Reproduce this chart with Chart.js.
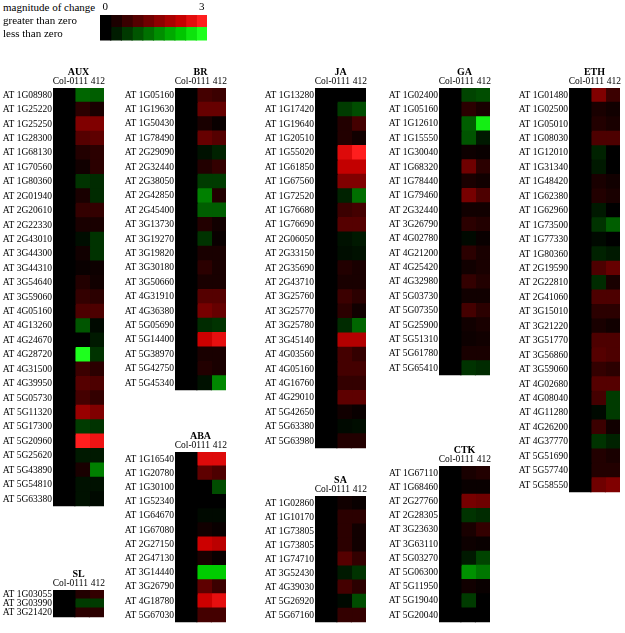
<!DOCTYPE html>
<html>
<head>
<meta charset="utf-8">
<script src="https://cdn.jsdelivr.net/npm/chart.js@4.4.1/dist/chart.umd.min.js"></script>
<style>
  body { margin: 0; background: #fff; width: 625px; height: 633px; overflow: hidden; position: relative; font-family: 'Liberation Serif', serif; }
  canvas { position: absolute; }
  #tituloEscala { position: absolute; left: 3px; top: 1px; font-size: 11px; color: #000; }
</style>
</head>
<body>
<div id="tituloEscala">magnitude of change</div>
<script>
// columnas y escala de color
const columnas = ['Col-0', '111', '412'];
const nivelesLeyenda = [0, 0.33, 0.67, 1, 1.33, 1.67, 2, 2.33, 2.67, 3];
const filasLeyenda = ['greater than zero', 'less than zero'];
const extremosLeyenda = ['0', '3'];

// AUX
const auxGenes = ['AT 1G08980', 'AT 1G25220', 'AT 1G25250', 'AT 1G28300', 'AT 1G68130', 'AT 1G70560', 'AT 1G80360', 'AT 2G01940', 'AT 2G20610', 'AT 2G22330', 'AT 2G43010', 'AT 3G44300', 'AT 3G44310', 'AT 3G54640', 'AT 3G59060', 'AT 4G05160', 'AT 4G13260', 'AT 4G24670', 'AT 4G28720', 'AT 4G31500', 'AT 4G39950', 'AT 5G05730', 'AT 5G11320', 'AT 5G17300', 'AT 5G20960', 'AT 5G25620', 'AT 5G43890', 'AT 5G54810', 'AT 5G63380'];
const auxCol0 = [0, 0, 0, 0, 0, 0, 0, 0, 0, 0, 0, 0, 0, 0, 0, 0, 0, 0, 0, 0, 0, 0, 0, 0, 0, 0, 0, 0, 0];
const aux111 = [-1.2, 0.5, 1.5, 1.0, 0.4, 0.2, -0.6, 0.3, 0.6, 0.3, -0.15, 0.2, 0.1, 0.4, 0.6, 0.9, -1.0, 0.0, -3.0, 0.7, 1.0, 0.8, 1.8, -0.7, 3.0, -0.3, 0.3, -0.2, -0.2];
const aux412 = [-1.1, 0.3, 1.5, 1.1, 0.5, 0.5, -0.5, -0.5, 0.6, 0.3, -0.6, -0.6, 0.15, 0.2, 0.5, 0.9, -0.1, -0.3, -0.6, 0.5, 0.9, 0.6, 1.5, -0.6, 2.8, -0.3, -1.5, -0.2, -0.1];

// SL
const slGenes = ['AT 1G03055', 'AT 3G03990', 'AT 3G21420'];
const slCol0 = [0, 0, 0];
const sl111 = [0.4, -0.7, 0.5];
const sl412 = [0.6, -0.7, 0.5];

// BR
const brGenes = ['AT 1G05160', 'AT 1G19630', 'AT 1G50430', 'AT 1G78490', 'AT 2G29090', 'AT 2G32440', 'AT 2G38050', 'AT 2G42850', 'AT 2G45400', 'AT 3G13730', 'AT 3G19270', 'AT 3G19820', 'AT 3G30180', 'AT 3G50660', 'AT 4G31910', 'AT 4G36380', 'AT 5G05690', 'AT 5G14400', 'AT 5G38970', 'AT 5G42750', 'AT 5G45340'];
const brCol0 = [0, 0, 0, 0, 0, 0, 0, 0, 0, 0, 0, 0, 0, 0, 0, 0, 0, 0, 0, 0, 0];
const br111 = [0.8, 1.2, 0.3, 1.2, -0.2, 0.4, -0.7, -1.5, -1.1, 0.4, -0.6, 0.3, 0.5, 0.3, 1.0, 1.4, -0.5, 2.4, 0.3, 0.4, -0.2];
const br412 = [0.7, 1.2, 0.1, 1.0, -0.4, 0.6, -0.7, 0.4, -1.1, 0.2, 0.1, 0.3, 0.3, 0.3, 1.0, 1.2, -0.6, 2.7, 0.3, 0.3, -1.6];

// ABA
const abaGenes = ['AT 1G16540', 'AT 1G20780', 'AT 1G30100', 'AT 1G52340', 'AT 1G64670', 'AT 1G67080', 'AT 2G27150', 'AT 2G47130', 'AT 3G14440', 'AT 3G26790', 'AT 4G18780', 'AT 5G67030'];
const abaCol0 = [0, 0, 0, 0, 0, 0, 0, 0, 0, 0, 0, 0];
const aba111 = [2.6, 1.1, 0.0, 0.0, -0.1, 0.2, 2.4, 0.3, -2.4, 1.1, 2.4, 0.8];
const aba412 = [2.6, 0.9, -0.9, 0.0, -0.1, 0.1, 2.2, 0.1, -2.4, 0.7, 2.7, 0.8];

// JA
const jaGenes = ['AT 1G13280', 'AT 1G17420', 'AT 1G19640', 'AT 1G20510', 'AT 1G55020', 'AT 1G61850', 'AT 1G67560', 'AT 1G72520', 'AT 1G76680', 'AT 1G76690', 'AT 2G06050', 'AT 2G33150', 'AT 2G35690', 'AT 2G43710', 'AT 3G25760', 'AT 3G25770', 'AT 3G25780', 'AT 3G45140', 'AT 4G03560', 'AT 4G05160', 'AT 4G16760', 'AT 4G29010', 'AT 5G42650', 'AT 5G63380', 'AT 5G63980'];
const jaCol0 = [0, 0, 0, 0, 0, 0, 0, 0, 0, 0, 0, 0, 0, 0, 0, 0, 0, 0, 0, 0, 0, 0, 0, 0, 0];
const ja111 = [0.0, -0.7, 0.4, 0.4, 2.6, 2.3, 1.5, -0.4, 0.7, 1.0, -0.2, -0.15, 0.4, 0.3, 0.7, 0.5, -0.5, 2.1, 0.8, 0.8, 0.6, 1.1, 0.2, -0.1, 0.4];
const ja412 = [0.0, -0.9, 0.8, 0.2, 3.0, 2.3, 1.5, -1.3, 0.8, 1.0, -0.3, -0.2, 0.3, 0.3, 0.5, 0.2, -1.2, 2.1, 0.6, 0.8, 0.6, 1.1, 0.1, -0.15, 0.4];

// SA
const saGenes = ['AT 1G02860', 'AT 1G10170', 'AT 1G73805', 'AT 1G73805', 'AT 1G74710', 'AT 3G52430', 'AT 4G39030', 'AT 5G26920', 'AT 5G67160'];
const saCol0 = [0, 0, 0, 0, 0, 0, 0, 0, 0];
const sa111 = [0.2, 0.5, 0.5, 0.5, 1.0, -0.3, 0.8, -0.1, 0.6];
const sa412 = [0.1, 0.5, 0.2, 0.2, 0.6, -0.6, 0.5, -0.9, 0.6];

// GA
const gaGenes = ['AT 1G02400', 'AT 1G05160', 'AT 1G12610', 'AT 1G15550', 'AT 1G30040', 'AT 1G68320', 'AT 1G78440', 'AT 1G79460', 'AT 2G32440', 'AT 3G26790', 'AT 4G02780', 'AT 4G21200', 'AT 4G25420', 'AT 4G32980', 'AT 5G03730', 'AT 5G07350', 'AT 5G25900', 'AT 5G51310', 'AT 5G61780', 'AT 5G65410'];
const gaCol0 = [0, 0, 0, 0, 0, 0, 0, 0, 0, 0, 0, 0, 0, 0, 0, 0, 0, 0, 0, 0];
const ga111 = [-0.8, 0.5, -1.1, -1.0, 0.15, 1.3, 0.3, 1.4, 0.2, 0.5, -0.1, 0.5, 0.2, 0.6, 0.2, 0.8, 0.2, 0.15, 0.3, -0.6];
const ga412 = [-0.9, 0.3, -2.8, -0.3, 0.1, 0.5, 0.2, 0.9, 0.2, 0.4, 0.1, 0.3, 0.3, 0.4, 0.2, 0.5, 0.3, 0.2, 0.3, -0.5];

// CTK
const ctkGenes = ['AT 1G67110', 'AT 1G68460', 'AT 2G27760', 'AT 2G28305', 'AT 3G23630', 'AT 3G63110', 'AT 5G03270', 'AT 5G06300', 'AT 5G11950', 'AT 5G19040', 'AT 5G20040'];
const ctkCol0 = [0, 0, 0, 0, 0, 0, 0, 0, 0, 0, 0];
const ctk111 = [0.3, 0.1, 1.4, -0.6, 0.3, 0.15, -0.3, -1.7, 0.2, -0.7, 0.0];
const ctk412 = [0.4, 0.1, 1.3, -0.5, 0.6, 0.1, -0.8, -1.4, 0.1, 0.0, 0.0];

// ETH
const ethGenes = ['AT 1G01480', 'AT 1G02500', 'AT 1G05010', 'AT 1G08030', 'AT 1G12010', 'AT 1G31340', 'AT 1G48420', 'AT 1G62380', 'AT 1G62960', 'AT 1G73500', 'AT 1G77330', 'AT 1G80360', 'AT 2G19590', 'AT 2G22810', 'AT 2G41060', 'AT 3G15010', 'AT 3G21220', 'AT 3G51770', 'AT 3G56860', 'AT 3G59060', 'AT 4G02680', 'AT 4G08040', 'AT 4G11280', 'AT 4G26200', 'AT 4G37770', 'AT 5G51690', 'AT 5G57740', 'AT 5G58550'];
const ethCol0 = [0, 0, 0, 0, 0, 0, 0, 0, 0, 0, 0, 0, 0, 0, 0, 0, 0, 0, 0, 0, 0, 0, 0, 0, 0, 0, 0, 0];
const eth111 = [1.5, 0.3, 0.4, 0.9, -0.4, -0.3, 0.3, 0.4, -0.3, -0.6, -0.1, -0.4, 0.9, -0.5, 0.9, 0.5, 0.3, 0.9, 1.0, 0.6, 1.0, 0.8, -0.1, 0.7, -0.6, 0.4, 0.4, 1.3];
const eth412 = [0.7, 0.2, 0.3, 0.9, 0.0, 0.0, 0.2, 0.3, 0.0, -1.1, 0.0, -0.3, 1.2, 0.3, 0.9, 0.5, 0.2, 0.9, 0.9, 0.5, 1.0, -0.7, -0.7, 0.2, -0.4, 0.3, 0.4, 1.5];

const FUENTE = 'Liberation Serif';

function colorDe(v) {
    const t = Math.min(1, Math.abs(v) / 3);
    const principal = Math.round(255 * t);
    const extra = t > 0.8 ? Math.round((t - 0.8) * 150) : 0;
    if (v >= 0) return `rgb(${principal},${extra},${extra})`;
    return `rgb(${extra},${principal},${extra})`;
}

function nuevoCanvas(left, top, w, h) {
    const c = document.createElement('canvas');
    c.width = w;
    c.height = h;
    c.style.left = left + 'px';
    c.style.top = top + 'px';
    document.body.appendChild(c);
    return c;
}

// alto de fila comun; SL es mas apretado
const FILA = 14.6;
const FILA_SL = 10.7;
const ARRIBA = 88, ABAJO = 627;

// posicion de cada mapa (borde izquierdo, borde superior de las celdas, alto de fila)
const paneles = [
    { nombre: 'AUX', genes: auxGenes, cols: [auxCol0, aux111, aux412], left: 53, top: ARRIBA, fila: FILA },
    { nombre: 'SL', genes: slGenes, cols: [slCol0, sl111, sl412], left: 53, top: 590, fila: FILA_SL },
    { nombre: 'BR', genes: brGenes, cols: [brCol0, br111, br412], left: 175, top: ARRIBA, fila: FILA },
    { nombre: 'ABA', genes: abaGenes, cols: [abaCol0, aba111, aba412], left: 175, top: ABAJO - 12 * FILA, fila: FILA },
    { nombre: 'JA', genes: jaGenes, cols: [jaCol0, ja111, ja412], left: 315, top: ARRIBA, fila: FILA },
    { nombre: 'SA', genes: saGenes, cols: [saCol0, sa111, sa412], left: 315, top: ABAJO - 9 * FILA, fila: FILA },
    { nombre: 'GA', genes: gaGenes, cols: [gaCol0, ga111, ga412], left: 439, top: ARRIBA, fila: FILA },
    { nombre: 'CTK', genes: ctkGenes, cols: [ctkCol0, ctk111, ctk412], left: 439, top: ABAJO - 11 * FILA, fila: FILA },
    { nombre: 'ETH', genes: ethGenes, cols: [ethCol0, eth111, eth412], left: 569, top: ARRIBA, fila: FILA }
];

const EJE_Y = 58, CABECERA = 24, ANCHO_MAPA = 51, PAD_D = 10, PAD_B = 2;
const bordesColumna = [[0, 1.5], [1.5, 2.5], [2.5, 3.5]];
const posCabecera = [0.72, 1.93, 3.08];

function crearPanel(p) {
    const alto = Math.round(p.genes.length * p.fila);
    const top = Math.round(p.top);
    const canvas = nuevoCanvas(p.left - EJE_Y, top - CABECERA,
        EJE_Y + ANCHO_MAPA + PAD_D, CABECERA + alto + PAD_B);

    new Chart(canvas, {
        type: 'bar',
        data: {
            labels: p.genes,
            datasets: p.cols.map((vals, i) => ({
                label: columnas[i],
                data: vals.map(() => bordesColumna[i]),
                backgroundColor: vals.map(colorDe),
                grouped: false,
                barPercentage: 1,
                categoryPercentage: 1,
                borderWidth: 0,
                inflateAmount: 0.6
            }))
        },
        options: {
            indexAxis: 'y',
            responsive: false,
            animation: false,
            layout: { padding: { right: PAD_D, bottom: PAD_B } },
            plugins: { legend: { display: false }, tooltip: { enabled: false } },
            scales: {
                x: {
                    position: 'top',
                    min: 0,
                    max: 3.5,
                    grid: { display: false, drawTicks: false },
                    border: { display: false },
                    afterBuildTicks: (s) => { s.ticks = posCabecera.map(v => ({ value: v })); },
                    afterFit: (s) => { s.height = CABECERA; },
                    ticks: {
                        autoSkip: false,
                        maxRotation: 0,
                        padding: 1,
                        color: '#000',
                        font: { family: FUENTE, size: 9.5 },
                        callback: (v, i) => columnas[i]
                    },
                    title: {
                        display: true,
                        text: p.nombre,
                        color: '#000',
                        padding: { top: 2, bottom: 0 },
                        font: { family: FUENTE, size: 10, weight: 'bold' }
                    }
                },
                y: {
                    grid: { display: false, drawTicks: false },
                    border: { display: false },
                    afterFit: (s) => { s.width = EJE_Y; },
                    ticks: { autoSkip: false, padding: 1, color: '#000', font: { family: FUENTE, size: 9.5 } }
                }
            }
        }
    });
}

function crearLeyenda() {
    const canvas = nuevoCanvas(3, 0, 97 + 107 + 5, 15 + 30 + 2);
    new Chart(canvas, {
        type: 'bar',
        data: {
            labels: filasLeyenda,
            datasets: nivelesLeyenda.map(n => ({
                data: [1, 1],
                backgroundColor: [colorDe(n), colorDe(-n)],
                barPercentage: 1,
                categoryPercentage: 1,
                borderWidth: 0,
                inflateAmount: 0.6
            }))
        },
        options: {
            indexAxis: 'y',
            responsive: false,
            animation: false,
            layout: { padding: { right: 5, bottom: 2 } },
            plugins: { legend: { display: false }, tooltip: { enabled: false } },
            scales: {
                x: {
                    position: 'top',
                    stacked: true,
                    min: 0,
                    max: nivelesLeyenda.length,
                    grid: { display: false, drawTicks: false },
                    border: { display: false },
                    afterBuildTicks: (s) => { s.ticks = [{ value: 0.5 }, { value: nivelesLeyenda.length - 0.5 }]; },
                    afterFit: (s) => { s.height = 15; },
                    ticks: {
                        autoSkip: false,
                        maxRotation: 0,
                        padding: 1,
                        color: '#000',
                        font: { family: FUENTE, size: 11 },
                        callback: (v, i) => extremosLeyenda[i]
                    }
                },
                y: {
                    stacked: true,
                    grid: { display: false, drawTicks: false },
                    border: { display: false },
                    afterFit: (s) => { s.width = 97; },
                    ticks: { autoSkip: false, crossAlign: 'far', padding: 0, color: '#000', font: { family: FUENTE, size: 11 } }
                }
            }
        }
    });
}

document.addEventListener('DOMContentLoaded', () => {
    crearLeyenda();
    paneles.forEach(crearPanel);
});
</script>
</body>
</html>
